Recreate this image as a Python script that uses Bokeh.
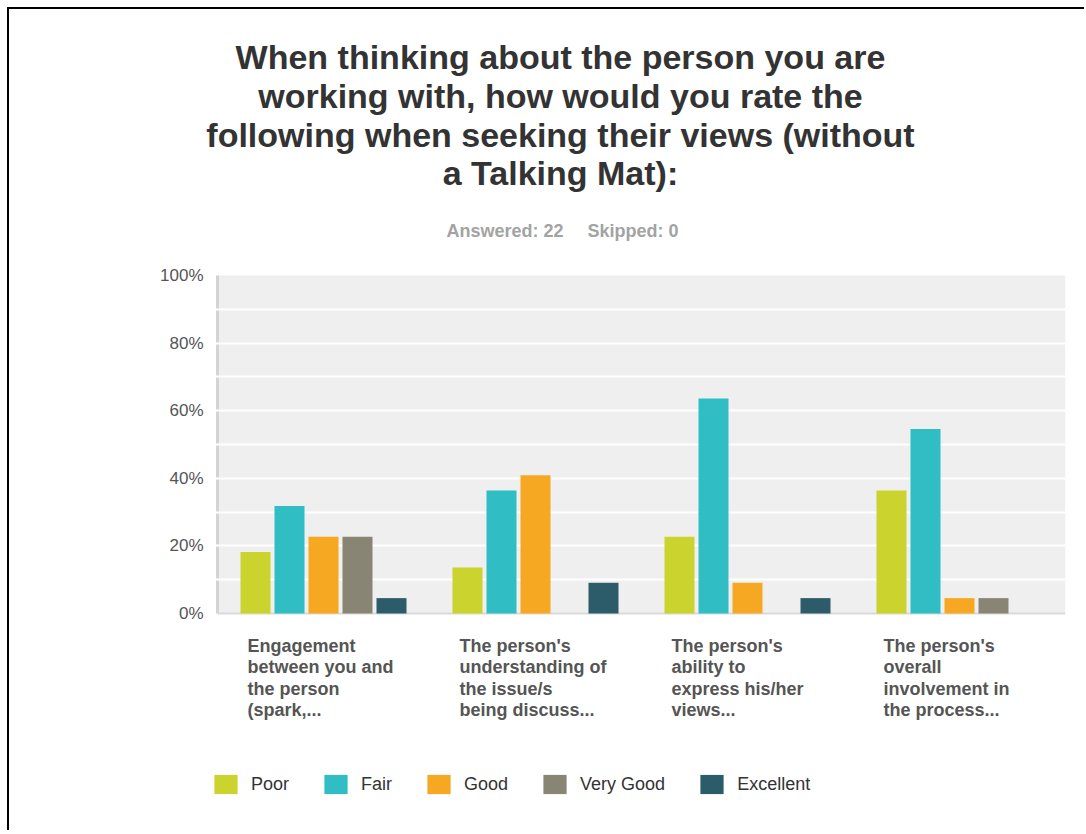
from bokeh.plotting import figure
from bokeh.models import ColumnDataSource, FixedTicker, PrintfTickFormatter, BoxAnnotation, Label, Legend, LegendItem
from bokeh.transform import dodge
from bokeh.core.properties import value
from bokeh.embed import file_html
from bokeh.resources import INLINE

# ---------------- data ----------------
title_lines = [
    "When thinking about the person you are",
    "working with, how would you rate the",
    "following when seeking their views (without",
    "a Talking Mat):",
]
answered_text = "Answered: 22"
skipped_text = "Skipped: 0"
categories = [
    "Engagement\nbetween you and\nthe person\n(spark,...",
    "The person's\nunderstanding of\nthe issue/s\nbeing discuss...",
    "The person's\nability to\nexpress his/her\nviews...",
    "The person's\noverall\ninvolvement in\nthe process...",
]
series = ["Poor", "Fair", "Good", "Very Good", "Excellent"]
poor = [18.18, 13.64, 22.73, 36.36]
fair = [31.82, 36.36, 63.64, 54.55]
good = [22.73, 40.91, 9.09, 4.55]
very_good = [22.73, 0.0, 0.0, 4.55]
excellent = [4.55, 9.09, 4.55, 0.0]
y_ticks = [0, 20, 40, 60, 80, 100]
grid_ticks = [10, 20, 30, 40, 50, 60, 70, 80, 90]
colors = ["#cbd32e", "#30bdc3", "#f6a823", "#888575", "#2c5b6a"]

# ---------------- layout constants (canvas px) ----------------
W, H = 1077, 823
FRAME_LEFT = 100      # canvas x where the drawing frame starts
AXIS_X = 208          # canvas x of the value axis (x = 0)
FRAME_RIGHT = 1056    # canvas x of x = number of categories
RIGHT = W - FRAME_RIGHT
TOP_PX = 266          # canvas y of 100%
BASE_PX = 604         # canvas y of 0%
PX_PER = (BASE_PX - TOP_PX) / 100.0
x_px_per = (FRAME_RIGHT - AXIS_X) / len(categories)
y_top = 100 + TOP_PX / PX_PER
y_bot = -(H - BASE_PX) / PX_PER
x_start = -(AXIS_X - FRAME_LEFT) / x_px_per


def ydata(cy):
    return 100 + (TOP_PX - cy) / PX_PER


def xdata(cx):
    return (cx - AXIS_X) / x_px_per


x_pos = [i + 0.5 for i in range(len(categories))]
src = ColumnDataSource(dict(x=x_pos, label=categories, poor=poor, fair=fair, good=good,
                            very_good=very_good, excellent=excellent))

p = figure(width=W, height=H, x_range=(x_start, len(categories)), y_range=(y_bot, y_top),
           output_backend="svg", toolbar_location=None, x_axis_type=None,
           min_border_left=FRAME_LEFT, min_border_right=RIGHT, min_border_top=0, min_border_bottom=0)
p.styles = {"margin-left": "9px", "margin-top": "9px", "box-shadow": "-2px -2px 0px 0px #000000"}
p.outline_line_color = None
p.background_fill_color = "white"
p.border_fill_color = "white"

# plot background
bg = BoxAnnotation(left=0, right=len(categories), bottom=0, top=100, fill_color="#efefef",
                   fill_alpha=1.0, line_color=None, level="image")
p.add_layout(bg)

p.ygrid.ticker = FixedTicker(ticks=grid_ticks)
p.ygrid.grid_line_color = "white"
p.ygrid.grid_line_width = 2

ax = p.yaxis[0]
ax.fixed_location = 0
ax.ticker = FixedTicker(ticks=y_ticks)
ax.formatter = PrintfTickFormatter(format="%d%%")
ax.axis_line_color = None
ax.major_tick_line_color = None
ax.minor_tick_line_color = None
ax.major_tick_out = 0
ax.major_tick_in = 0
ax.minor_tick_out = 0
ax.major_label_text_font = "Liberation Sans"
ax.major_label_text_font_size = "17px"
ax.major_label_text_color = "#555555"
ax.major_label_standoff = 14

# axis lines
p.segment(x0=[0], y0=[0], x1=[0], y1=[100], line_color="#d4d4d4", line_width=3, level="underlay")
p.segment(x0=[0], y0=[0], x1=[len(categories)], y1=[0], line_color="#dadada", line_width=2, level="underlay")

keys = ["poor", "fair", "good", "very_good", "excellent"]
step = 34 / x_px_per
bw = 30 / x_px_per
items = []
for i, (k, name) in enumerate(zip(keys, series)):
    r = p.vbar(x=dodge("x", (i - 2) * step, range=p.x_range), top=k, width=bw, bottom=0,
               source=src, fill_color=colors[i], line_color=None)
    items.append(LegendItem(label=name, renderers=[r]))

# category labels
p.text(x="x", y=ydata(626.5), text="label", source=src, x_offset=-76,
       text_align="left", text_baseline="top", text_font=value("Liberation Sans"),
       text_font_style="bold", text_font_size="18px", text_color="#555555",
       text_line_height=1.07)

# title
for i, line in enumerate(title_lines):
    p.add_layout(Label(x=xdata(551), y=ydata(47.5 + 38.8 * i), text=line, text_align="center",
                       text_baseline="alphabetic", text_font="Liberation Sans",
                       text_font_style="bold", text_font_size="34px", text_color="#333333"))

p.add_layout(Label(x=xdata(437), y=ydata(221), text=answered_text, text_align="left",
                   text_baseline="alphabetic", text_font="Liberation Sans", text_font_style="bold",
                   text_font_size="18px", text_color="#a3a3a3"))
p.add_layout(Label(x=xdata(578), y=ydata(221), text=skipped_text, text_align="left",
                   text_baseline="alphabetic", text_font="Liberation Sans", text_font_style="bold",
                   text_font_size="18px", text_color="#a3a3a3"))

legend = Legend(items=items, orientation="horizontal", location=(202 - FRAME_LEFT, 36),
                glyph_width=29, glyph_height=24, label_standoff=11, spacing=32,
                padding=0, margin=0, border_line_color=None, background_fill_alpha=0,
                label_text_font="Liberation Sans", label_text_font_size="18px",
                label_text_color="#333333")
p.add_layout(legend)

open("out.html", "w").write(file_html(p, INLINE))
